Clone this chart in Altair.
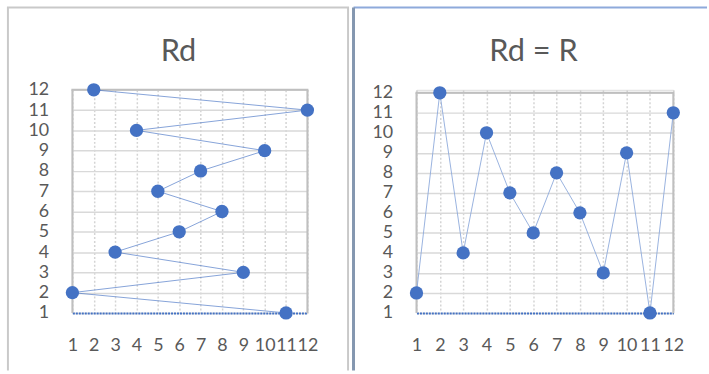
import altair as alt
import pandas as pd

# Rank pairs: R on the horizontal axis, Rd on the vertical axis
r_vals = [1, 2, 3, 4, 5, 6, 7, 8, 9, 10, 11, 12]
rd_vals = [2, 12, 4, 10, 7, 5, 8, 6, 3, 9, 1, 11]
tick_vals = [1, 2, 3, 4, 5, 6, 7, 8, 9, 10, 11, 12]

df = pd.DataFrame({"R": r_vals, "Rd": rd_vals})

BLUE = "#4472c4"
TEXT = "#595959"
FONT = "Lato"
H = 225


def panel(title, w, y_top, order_field, line_color, line_opacity, title_x, title_y, frame):
    xs = alt.Scale(domain=[1, 12], nice=False, zero=False)
    ys = alt.Scale(domain=[1, 12], nice=False, zero=False, range=[H, y_top])
    x_axis = alt.Axis(
        values=tick_vals, title=None, ticks=False, tickSize=0, labelPadding=24,
        labelOverlap=False, labelFlush=False, labelFont=FONT, labelFontSize=18,
        labelColor=TEXT, domainColor=BLUE, domainDash=[2, 1], domainWidth=2,
        grid=True, gridColor="#d4d4d4", gridDash=[2, 2], gridWidth=1.5,
    )
    y_axis = alt.Axis(
        values=tick_vals, title=None, ticks=False, tickSize=0, labelPadding=24,
        labelOverlap=False, labelFlush=False, labelFont=FONT, labelFontSize=18,
        labelColor=TEXT, domain=False, grid=True, gridColor="#d9d9d9", gridWidth=1.5,
    )
    base = alt.Chart(df).encode(
        x=alt.X("R:Q", scale=xs, axis=x_axis),
        y=alt.Y("Rd:Q", scale=ys, axis=y_axis),
    )
    line = base.mark_line(
        color=line_color, strokeWidth=1, opacity=line_opacity, clip=False
    ).encode(order=alt.Order(order_field + ":Q"))
    pts = base.mark_circle(size=180, color=BLUE, opacity=1, clip=False)
    label = alt.Chart(alt.Data(values=[{}])).mark_text(
        text=title, font=FONT, fontSize=31, color=TEXT, align="center",
        baseline="alphabetic",
    ).encode(x=alt.value(title_x), y=alt.value(title_y))

    decor = alt.Chart(alt.Data(values=[{}]))

    def rule(x1, x2, y1, y2, c, sw):
        return decor.mark_rule(color=c, strokeWidth=sw).encode(
            x=alt.value(x1), x2=alt.value(x2), y=alt.value(y1), y2=alt.value(y2)
        )

    # plot-area outline: top, left and right edges (bottom is the dotted axis)
    outline = [
        rule(-1, w + 1, y_top, y_top, "#bfbfbf", 2),
        rule(0, 0, y_top, H, "#bfbfbf", 2),
        rule(w, w, y_top, H, "#bfbfbf", 2),
    ]
    # outer panel border pieces
    border = [rule(*f) for f in frame]
    return alt.layer(*outline, line, pts, label, *border).properties(width=w, height=H)


left = panel(
    "Rd", 237, 0, "Rd", BLUE, 0.65, 107, -29,
    [
        (-66, 279, -83, -83, "#c9c9c9", 2),
        (-65, -65, -83, 283, "#c9c9c9", 2),
        (278, 278, -83, 283, "#c9c9c9", 2),
    ],
)
right = panel(
    "Rd = R", 259, 3, "R", "#8eaadb", 0.9, 118, -29,
    [
        (-63.5, 293, -83, -83, "#8eaadb", 2),
        (-63.5, -63.5, -83, 283, "#8497b0", 3),
    ],
)

chart = (
    alt.hconcat(left, right, spacing=0)
    .properties(padding={"left": 5, "top": 4, "right": 0, "bottom": 0})
    .configure_view(stroke=None)
    .configure(background="white")
)

chart.save("out.html", embed_options={"renderer": "svg", "actions": False})
